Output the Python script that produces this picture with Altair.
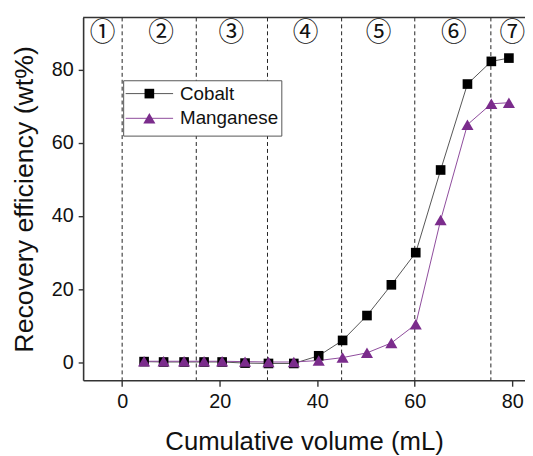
import altair as alt
import pandas as pd

# ---- data ----
volume = [4.5, 8.5, 12.7, 16.8, 20.5, 25.2, 30.0, 35.2, 40.3, 45.2, 50.2, 55.2, 60.2, 65.3, 70.8, 75.7, 79.3]
cobalt = [0.2, 0.1, 0.1, 0.1, 0.1, -0.2, -0.3, -0.3, 1.8, 6.0, 12.8, 21.2, 30.0, 52.6, 76.1, 82.3, 83.2]
manganese = [0.3, 0.3, 0.3, 0.3, 0.3, 0.2, 0.1, 0.1, 0.5, 1.3, 2.6, 5.3, 10.4, 38.9, 65.0, 70.7, 71.0]
series = ["Cobalt", "Manganese"]
boundaries = [0, 15.2, 29.8, 45.0, 60.0, 75.6]
stage_labels = ["①", "②", "③", "④", "⑤", "⑥", "⑦"]
stage_x = [-4.0, 8.0, 22.4, 37.6, 52.6, 68.0, 80.0]
stage_y = 89.9
x_ticks = [0, 20, 40, 60, 80]
y_ticks = [0, 20, 40, 60, 80]

W, H = 447, 367
FONT = "Liberation Sans"
AXIS_COLOR = "#333333"
marker_colors = ["#000000", "#7B2C8C"]
line_colors = ["#555555", "#8E4B9C"]
shapes = ["square", "triangle-up"]
sizes = [95, 150]

values = [cobalt, manganese]
bdf = pd.DataFrame({"x": boundaries})
sdf = pd.DataFrame({"x": stage_x, "label": stage_labels, "y": [stage_y] * len(stage_x)})

xscale = alt.Scale(domain=[-8, 82.6], nice=False, zero=False)
yscale = alt.Scale(domain=[-4.9, 94.3], nice=False, zero=False)

xaxis = alt.Axis(values=x_ticks, title="Cumulative volume (mL)", grid=False,
                 labelFontSize=20, titleFontSize=26, labelFont=FONT, titleFont=FONT,
                 titleFontWeight="normal", labelColor="#111", titleColor="#111",
                 domainColor=AXIS_COLOR, tickColor=AXIS_COLOR, domainWidth=1.6, tickWidth=1.4,
                 tickSize=6, labelPadding=6, titlePadding=17)
yaxis = alt.Axis(values=y_ticks, title="Recovery efficiency (wt%)", grid=False,
                 labelFontSize=20, titleFontSize=27, labelFont=FONT, titleFont=FONT,
                 titleFontWeight="normal", labelColor="#111", titleColor="#111",
                 domainColor=AXIS_COLOR, tickColor=AXIS_COLOR, domainWidth=1.6, tickWidth=1.4,
                 tickSize=5, labelPadding=5, titlePadding=13)

dashes = alt.Chart(bdf).mark_rule(color="#222", strokeDash=[4, 3], strokeWidth=1).encode(
    x=alt.X("x:Q", scale=xscale, axis=xaxis),
)

layers = [dashes]
for i, s in enumerate(series):
    d = pd.DataFrame({"volume": volume, "value": values[i], "series": s})
    layers.append(alt.Chart(d).mark_line(strokeWidth=1, color=line_colors[i]).encode(
        x=alt.X("volume:Q", scale=xscale, axis=xaxis),
        y=alt.Y("value:Q", scale=yscale, axis=yaxis),
    ))
for i, s in enumerate(series):
    d = pd.DataFrame({"volume": volume, "value": values[i], "series": s})
    layers.append(alt.Chart(d).mark_point(filled=True, opacity=1, size=sizes[i], shape=shapes[i],
                                          color=marker_colors[i]).encode(
        x=alt.X("volume:Q", scale=xscale, axis=xaxis),
        y=alt.Y("value:Q", scale=yscale, axis=yaxis),
    ))

stages = alt.Chart(sdf).mark_text(fontSize=26, font="Noto Sans CJK JP", color="#111",
                                  baseline="middle").encode(
    x=alt.X("x:Q", scale=xscale, axis=xaxis),
    y=alt.Y("y:Q", scale=yscale, axis=yaxis),
    text="label:N",
)
layers.append(stages)

top_line = alt.Chart(pd.DataFrame({"a": [0]})).mark_rule(color=AXIS_COLOR, strokeWidth=1.6).encode(
    x=alt.value(0), x2=alt.value(W), y=alt.value(0)
)
layers.append(top_line)

# ---- legend (drawn manually) ----
box = alt.Chart(pd.DataFrame({"a": [0]})).mark_rect(fill="white", stroke="#555", strokeWidth=1).encode(
    x=alt.value(41), x2=alt.value(201), y=alt.value(64), y2=alt.value(120)
)
layers.append(box)
for i, s in enumerate(series):
    yy = 77 + 25 * i
    one = pd.DataFrame({"series": [s]})
    layers.append(alt.Chart(one).mark_rule(color=line_colors[i], strokeWidth=1).encode(
        x=alt.value(43), x2=alt.value(91), y=alt.value(yy)))
    layers.append(alt.Chart(one).mark_point(filled=True, opacity=1, size=sizes[i], shape=shapes[i],
                                            color=marker_colors[i]).encode(
        x=alt.value(67), y=alt.value(yy)))
    layers.append(alt.Chart(one).mark_text(align="left", baseline="middle", fontSize=19,
                                           font=FONT, color="#111").encode(
        x=alt.value(98), y=alt.value(yy), text="series:N"))

chart = alt.layer(*layers).properties(
    width=W, height=H,
    padding={"left": 76, "top": 7, "right": 0, "bottom": 74},
    autosize=alt.AutoSizeParams(type="none"),
).configure_view(stroke=None)

chart.save("out.html", embed_options={"renderer": "svg", "actions": False})
